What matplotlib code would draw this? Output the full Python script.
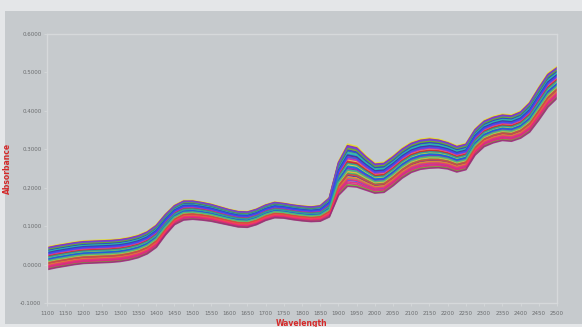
# -*- coding: utf-8 -*-
# NIR spectra overlay (absorbance vs wavelength)
import numpy as np
import matplotlib
matplotlib.use('Agg')
import matplotlib.pyplot as plt

# wavelength grid, every 25 nm
wavelength = list(range(1100, 2501, 25))

# centre of the spectra band at each wavelength
mean_abs = [0.017, 0.022, 0.026, 0.030, 0.033, 0.034, 0.035, 0.036, 0.038, 0.042,
            0.048, 0.058, 0.075, 0.105, 0.130, 0.142, 0.143, 0.140, 0.136, 0.130,
            0.124, 0.119, 0.118, 0.125, 0.136, 0.143, 0.141, 0.137, 0.134, 0.132,
            0.134, 0.150, 0.225, 0.260, 0.256, 0.240, 0.226, 0.228, 0.245, 0.265,
            0.280, 0.288, 0.291, 0.290, 0.285, 0.276, 0.282, 0.320, 0.342, 0.352,
            0.358, 0.356, 0.365, 0.385, 0.420, 0.455, 0.475]

# half width of the band at each wavelength
half_width = [0.030, 0.030, 0.030, 0.030, 0.030, 0.030, 0.030, 0.030, 0.030, 0.030,
              0.030, 0.030, 0.030, 0.028, 0.026, 0.026, 0.025, 0.024, 0.023, 0.022,
              0.021, 0.021, 0.021, 0.021, 0.021, 0.021, 0.020, 0.020, 0.020, 0.020,
              0.021, 0.026, 0.045, 0.056, 0.054, 0.046, 0.040, 0.040, 0.040, 0.040,
              0.040, 0.040, 0.040, 0.038, 0.036, 0.035, 0.035, 0.035, 0.035, 0.035,
              0.035, 0.035, 0.036, 0.040, 0.044, 0.045, 0.042]

# relative position of each sample inside the band (-1 bottom, 1 top)
sample_pos = [0.95, -0.88, 0.62, -0.35, 0.10, 0.80, -0.62, 0.33, -0.15, 0.48,
              -0.95, 0.72, -0.50, 0.22, -0.05, 0.88, -0.72, 0.40, -0.28, 0.58,
              0.02, -0.80, 0.68, -0.42, 0.15, -0.20, 0.52, -0.58, 0.28, -0.10,
              0.76, -0.68, 0.44, -0.32, 0.06, -1.00, 0.36, -0.45, 0.85, -0.25]

line_colors = ['#e8e020', '#e0207a', '#2040d0', '#20b060', '#d02020', '#8020c0',
               '#20b0c0', '#f08020', '#c020c0', '#1060e0', '#60c020', '#ff3060',
               '#4030a0', '#f0c030', '#20a0a0', '#a02080', '#3050ff', '#e04040',
               '#7040e0', '#40c080']

plt.rcParams['font.family'] = ['DejaVu Sans']

fig = plt.figure(figsize=(5.82, 3.27), dpi=100)
fig.patch.set_facecolor('#e4e6e8')

# grey panel behind the chart
bg = fig.add_axes([5 / 582, 3 / 327, 577 / 582, 313 / 327])
bg.set_facecolor('#c6cacd')
bg.set_xticks([])
bg.set_yticks([])
for s in bg.spines.values():
    s.set_visible(False)

ax = fig.add_axes([47 / 582, 24 / 327, 510 / 582, 269 / 327])
ax.set_facecolor('#c6cacd')

wl = np.array(wavelength)
mu = np.array(mean_abs)
hw = np.array(half_width)
for i, p in enumerate(sample_pos):
    ax.plot(wl, mu + p * hw, color=line_colors[i % len(line_colors)], lw=1.2, alpha=0.85)

ax.set_xlim(1100, 2500)
ax.set_ylim(-0.1, 0.6)
ax.set_xticks(range(1100, 2501, 50))
ax.set_yticks(np.arange(-0.1, 0.61, 0.1))
ax.set_yticklabels(['%.4f' % v for v in np.arange(-0.1, 0.61, 0.1)])
ax.tick_params(axis='both', labelsize=4, colors='#d6d9db', labelcolor='#6a6c6e',
               length=2, width=0.6)
ax.tick_params(axis='x', pad=4)
ax.tick_params(axis='y', pad=2)
for s in ax.spines.values():
    s.set_color('#d6d9db')
    s.set_linewidth(1)

ax.set_xlabel('Wavelength', color='#d42a2a', fontsize=5.5, fontweight='bold')
ax.set_ylabel('Absorbance', color='#d42a2a', fontsize=5.5, fontweight='bold')
ax.xaxis.set_label_coords(0.5, -0.058)
ax.yaxis.set_label_coords(-0.068, 0.5)

fig.savefig('out.png', dpi=100, facecolor=fig.get_facecolor())
